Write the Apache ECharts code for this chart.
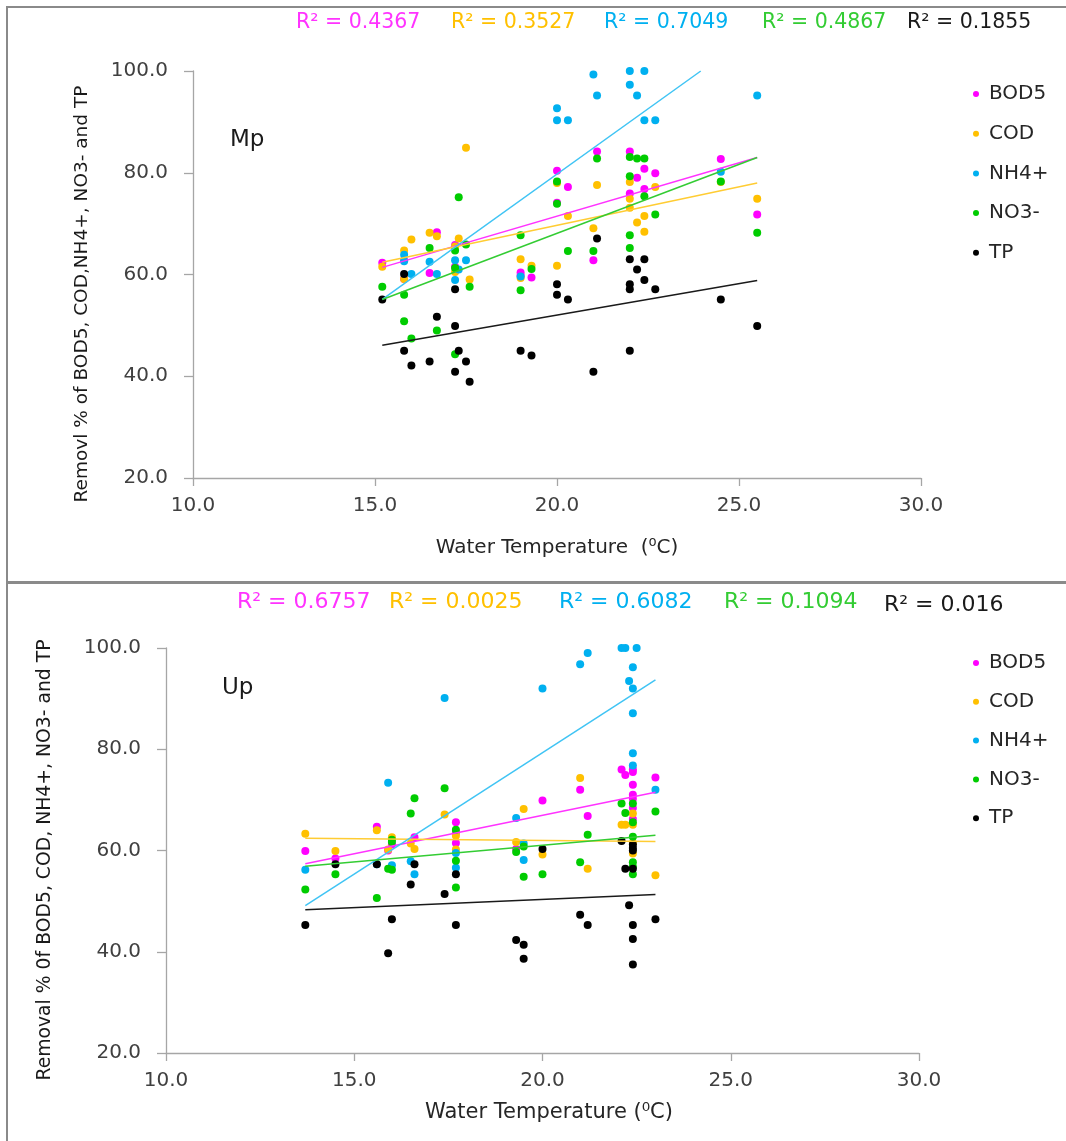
<!DOCTYPE html>
<html><head><meta charset="utf-8">
<script src="https://cdn.jsdelivr.net/npm/echarts/dist/echarts.min.js"></script>
<style>html,body{margin:0;padding:0;background:#fff}#c{width:1066px;height:1141px}</style>
</head><body><div id="c"></div>
<script>
// ---------- data ----------
const seriesNames = ['BOD5', 'COD', 'NH4+', 'NO3-', 'TP'];
const xTicks = [10, 15, 20, 25, 30];
const yTicks = [20, 40, 60, 80, 100];

// Mp (top panel)
const mpBOD5 = [[15.2,62.3],[15.8,62.8],[15.8,59.1],[16.5,60.3],[16.7,68.3],[17.2,65.8],[17.2,61.5],[19.0,60.4],[19.0,59.8],[19.3,59.4],[20.0,80.4],[20.0,74.1],[20.3,77.2],[21.0,62.8],[21.1,84.2],[22.0,84.2],[22.0,75.9],[22.2,79.0],[22.4,80.8],[22.4,76.8],[22.7,79.9],[24.5,82.7],[25.5,71.8]];
const mpCOD = [[15.2,61.5],[15.8,64.7],[15.8,59.1],[16.0,66.9],[16.5,68.2],[16.7,67.5],[17.2,65.5],[17.2,60.5],[17.3,67.1],[17.5,84.9],[17.6,59.0],[19.0,63.0],[19.0,59.3],[19.3,61.7],[20.0,78.0],[20.0,61.7],[20.3,71.5],[21.0,69.1],[21.1,77.6],[22.0,78.2],[22.0,74.9],[22.0,73.1],[22.2,70.2],[22.4,71.5],[22.4,68.4],[22.7,77.2],[24.5,78.2],[25.5,74.9]];
const mpNH4 = [[15.8,63.9],[15.8,62.6],[16.0,60.1],[16.5,62.5],[16.7,60.1],[17.2,62.8],[17.2,58.9],[17.3,61.0],[17.5,62.8],[19.0,59.6],[20.0,92.7],[20.0,90.3],[20.3,90.3],[21.0,99.3],[21.1,95.2],[22.0,100],[22.0,97.3],[22.2,95.2],[22.4,100],[22.4,90.3],[22.7,90.3],[24.5,80.2],[25.5,95.2]];
const mpNO3 = [[15.2,57.6],[15.8,56.0],[15.8,50.8],[16.0,47.4],[16.5,65.2],[16.7,49.0],[17.2,64.7],[17.2,61.3],[17.2,44.3],[17.3,75.2],[17.5,65.9],[17.6,57.6],[19.0,67.7],[19.0,56.9],[19.3,61.1],[20.0,78.3],[20.0,73.9],[20.3,64.6],[21.0,64.6],[21.1,82.8],[22.0,83.1],[22.0,79.3],[22.0,67.7],[22.0,65.2],[22.2,82.8],[22.4,82.8],[22.4,75.4],[22.7,71.8],[24.5,78.3],[25.5,68.2]];
const mpTP = [[15.2,55.1],[15.8,60.1],[15.8,45.0],[16.0,42.1],[16.5,42.9],[16.7,51.7],[17.2,57.1],[17.2,49.9],[17.2,40.9],[17.3,45.0],[17.5,42.9],[17.6,38.9],[19.0,45.0],[19.3,44.1],[20.0,58.1],[20.0,56.0],[20.3,55.1],[21.0,40.9],[21.1,67.1],[22.0,63.0],[22.0,58.1],[22.0,57.1],[22.0,45.0],[22.2,61.0],[22.4,63.0],[22.4,58.9],[22.7,57.1],[24.5,55.1],[25.5,49.9]];
// trendline end points
const mpTrendBOD5 = [[15.2,61.4],[25.5,83.0]];
const mpTrendCOD = [[15.2,62.4],[25.5,78.0]];
const mpTrendNH4 = [[15.2,55.1],[23.95,100]];
const mpTrendNO3 = [[15.2,55.1],[25.5,83.0]];
const mpTrendTP = [[15.2,46.1],[25.5,58.8]];
const mpR2 = ['0.4367', '0.3527', '0.7049', '0.4867', '0.1855'];

// Up (bottom panel)
const upBOD5 = [[13.7,59.9],[14.5,58.4],[15.6,64.7],[15.9,60.0],[16.0,61.2],[16.6,62.6],[17.7,65.6],[17.7,63.5],[17.7,61.5],[19.3,60.3],[20.0,69.9],[21.0,72.0],[21.2,66.8],[22.1,76.0],[22.2,74.9],[22.4,76.0],[22.4,75.5],[22.4,73.0],[22.4,71.0],[22.4,70.2],[22.4,68.4],[22.4,66.2],[23.0,74.4]];
const upCOD = [[13.7,63.3],[14.5,59.9],[15.6,64.0],[15.9,60.2],[16.0,62.6],[16.5,61.4],[16.6,60.3],[17.4,67.1],[17.7,62.9],[17.7,60.2],[19.3,61.7],[19.5,68.2],[20.0,59.2],[21.0,74.3],[21.2,56.4],[22.1,65.1],[22.2,65.1],[22.4,67.3],[22.4,65.1],[22.4,61.5],[22.4,59.4],[23.0,55.1]];
const upNH4 = [[13.7,56.2],[15.6,57.3],[15.9,73.4],[16.0,57.1],[16.5,57.9],[16.6,55.3],[17.4,90.1],[17.7,59.5],[17.7,56.6],[19.3,66.4],[19.5,61.4],[19.5,58.1],[20.0,92.0],[21.0,96.8],[21.2,99.0],[22.1,100],[22.2,100],[22.3,93.5],[22.4,96.2],[22.4,92.0],[22.4,87.1],[22.4,79.2],[22.4,76.8],[22.5,100],[23.0,72.0]];
const upNO3 = [[13.7,52.3],[14.5,55.3],[15.6,50.6],[15.9,56.4],[16.0,62.1],[16.0,61.7],[16.0,56.2],[16.5,67.3],[16.6,70.3],[17.4,72.3],[17.7,64.1],[17.7,58.0],[17.7,52.7],[19.3,59.7],[19.5,60.8],[19.5,54.8],[20.0,55.3],[21.0,57.7],[21.2,63.1],[22.1,69.3],[22.2,67.4],[22.4,69.3],[22.4,65.6],[22.4,62.7],[22.4,57.7],[22.4,56.8],[22.4,55.3],[23.0,67.7]];
const upTP = [[13.7,45.3],[14.5,57.3],[15.6,57.3],[15.9,39.7],[16.0,46.4],[16.5,53.3],[16.6,57.3],[17.4,51.4],[17.7,55.3],[17.7,45.3],[19.3,42.3],[19.5,41.4],[19.5,38.6],[20.0,60.3],[21.0,47.3],[21.2,45.3],[22.1,61.9],[22.2,56.4],[22.3,49.2],[22.4,61.2],[22.4,60.5],[22.4,60.0],[22.4,56.4],[22.4,45.3],[22.4,42.5],[22.4,37.5],[23.0,46.4]];
const upTrendBOD5 = [[13.7,57.4],[23.0,71.5]];
const upTrendCOD = [[13.7,62.4],[23.0,61.8]];
const upTrendNH4 = [[13.7,49.1],[23.0,93.7]];
const upTrendNO3 = [[13.7,56.9],[23.0,63.0]];
const upTrendTP = [[13.7,48.3],[23.0,51.3]];
const upR2 = ['0.6757', '0.0025', '0.6082', '0.1094', '0.016'];

// ---------- styling ----------
const FONT = '"DejaVu Sans", sans-serif';
const pointColors = ['#ff00ff', '#ffc000', '#00b0f0', '#00cc00', '#000000'];
const lineColors = ['#ff33ff', '#ffcc33', '#40c4f4', '#33cc33', '#1a1a1a'];
const r2Colors = ['#ff33ff', '#ffc000', '#00b0f0', '#33cc33', '#1a1a1a'];

const panels = [
  { points: [mpBOD5, mpCOD, mpNH4, mpNO3, mpTP], trends: [mpTrendBOD5, mpTrendCOD, mpTrendNH4, mpTrendNO3, mpTrendTP] },
  { points: [upBOD5, upCOD, upNH4, upNO3, upTP], trends: [upTrendBOD5, upTrendCOD, upTrendNH4, upTrendNO3, upTrendTP] }
];

function xAxisCfg(g) {
  return {
    gridIndex: g, type: 'value', min: xTicks[0], max: xTicks[xTicks.length - 1], interval: 5,
    axisLine: { show: true, onZero: false, lineStyle: { color: '#a6a6a6', width: 1.3 } },
    axisTick: { show: true, length: 8, lineStyle: { color: '#a6a6a6', width: 1.3 } },
    splitLine: { show: false },
    axisLabel: { formatter: v => v.toFixed(1), fontSize: 20, color: '#404040', fontFamily: FONT, margin: 18 }
  };
}
function yAxisCfg(g) {
  return {
    gridIndex: g, type: 'value', min: yTicks[0], max: yTicks[yTicks.length - 1], interval: 20,
    axisLine: { show: true, onZero: false, lineStyle: { color: '#a6a6a6', width: 1.3 } },
    axisTick: { show: true, length: 9, lineStyle: { color: '#a6a6a6', width: 1.3 } },
    splitLine: { show: false },
    axisLabel: { formatter: v => v.toFixed(1), fontSize: 20, color: '#404040', fontFamily: FONT, margin: 25 }
  };
}

const series = [];
panels.forEach((p, g) => {
  seriesNames.forEach((n, i) => {
    series.push({
      name: n, type: 'scatter', xAxisIndex: g, yAxisIndex: g, data: p.points[i],
      symbol: 'circle', symbolSize: 8, itemStyle: { color: pointColors[i], opacity: 1 }, z: 2,
      emphasis: { disabled: true }
    });
  });
  seriesNames.forEach((n, i) => {
    series.push({
      name: n + ' trend', type: 'line', xAxisIndex: g, yAxisIndex: g, data: p.trends[i],
      symbol: 'none', lineStyle: { color: lineColors[i], width: 1.5 }, z: 3, silent: true, clip: true
    });
  });
});

function txt(text, x, y, size, color) {
  return {
    type: 'text', x: x, y: y, silent: true,
    style: { text: text, x: 0, y: 0, fill: color, font: size + 'px ' + FONT, align: 'left', verticalAlign: 'middle', textAlign: 'left', textVerticalAlign: 'middle' }
  };
}
function ctxt(text, x, y, size, color, rot) {
  return {
    type: 'text', x: x, y: y, rotation: rot || 0, silent: true,
    style: { text: text, x: 0, y: 0, fill: color, font: size + 'px ' + FONT, align: 'center', verticalAlign: 'middle', textAlign: 'center', textVerticalAlign: 'middle' }
  };
}

const mpR2X = [296, 451, 604, 762, 907];
const upR2X = [237, 389, 559, 724, 884];
const graphics = [
  { type: 'rect', shape: { x: 7, y: 7, width: 1100, height: 575 }, style: { fill: 'none', stroke: '#8a8a8a', lineWidth: 2 }, silent: true, z: 0 },
  { type: 'rect', shape: { x: 7, y: 583, width: 1100, height: 600 }, style: { fill: 'none', stroke: '#8a8a8a', lineWidth: 2 }, silent: true, z: 0 },
  txt('Mp', 230, 140, 23, '#1a1a1a'),
  txt('Up', 222, 688, 23, '#1a1a1a'),
  ctxt('Water Temperature  (\u2070C)', 557, 548, 20, '#262626'),
  ctxt('Water Temperature (\u2070C)', 549, 1113, 21, '#262626'),
  ctxt('Removl % of BOD5, COD,NH4+, NO3- and TP', 82, 294, 18.5, '#1a1a1a', Math.PI / 2),
  ctxt('Removal % 0f BOD5, COD, NH4+, NO3- and TP', 45, 860, 18.8, '#1a1a1a', Math.PI / 2)
];
mpR2.forEach((r, i) => graphics.push(txt('R\u00b2 = ' + r, mpR2X[i], 23, 20.5, r2Colors[i])));
upR2.forEach((r, i) => graphics.push(txt('R\u00b2 = ' + r, upR2X[i], i === 4 ? 605 : 602, 22, r2Colors[i])));

function legendCfg(top, gap) {
  return {
    data: seriesNames.map(n => ({ name: n, icon: 'circle' })),
    orient: 'vertical', left: 973, top: top, padding: 0,
    itemWidth: 6, itemHeight: 6, itemGap: gap, selectedMode: false,
    textStyle: { fontSize: 20, lineHeight: 20, color: '#262626', fontFamily: FONT, padding: [0, 0, 0, 5] }
  };
}

const option = {
  animation: false,
  backgroundColor: '#ffffff',
  grid: [
    { left: 193, top: 71, width: 728, height: 407 },
    { left: 166, top: 648, width: 753, height: 405 }
  ],
  xAxis: [xAxisCfg(0), xAxisCfg(1)],
  yAxis: [yAxisCfg(0), yAxisCfg(1)],
  legend: [legendCfg(84, 19.7), legendCfg(653, 18.8)],
  graphic: graphics,
  series: series
};

const chart = echarts.init(document.getElementById('c'), null, { renderer: 'canvas' });
chart.setOption(option);
</script>
</body></html>
